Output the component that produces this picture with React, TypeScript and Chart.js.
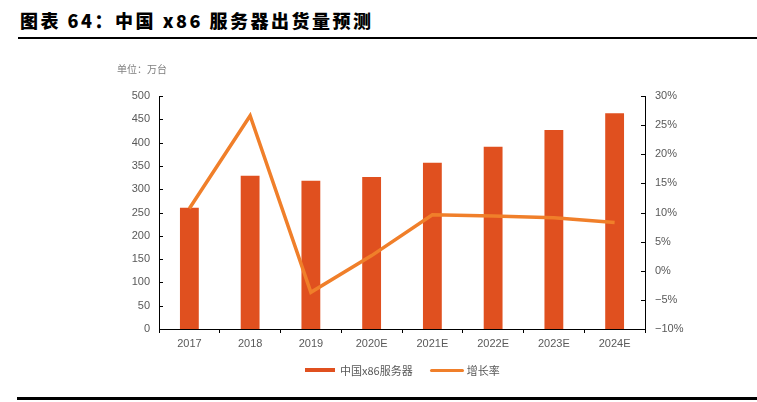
import { useEffect, useRef } from 'react'
import { Chart, registerables, ChartConfiguration, Plugin } from 'chart.js'

Chart.register(...registerables)

const years = ['2017', '2018', '2019', '2020E', '2021E', '2022E', '2023E', '2024E']
const shipments = [260, 329, 318, 326, 357, 391, 427, 463]
const growth = [10.7, 26.6, -3.7, 2.6, 9.6, 9.4, 9.1, 8.3]

const barColor = '#E0501F'
const lineColor = '#F07F2A'
const textGray = '#595959'
const latin = '"Liberation Sans", Arial, sans-serif'
const cjk = '"Noto Sans CJK SC", sans-serif'

// small tick marks pointing into the plot on both value axes
const innerTicks: Plugin<'bar'> = {
  id: 'innerTicks',
  afterDraw(chart) {
    const { ctx, chartArea } = chart
    const left = chart.scales.y
    const right = chart.scales.y1
    ctx.save()
    ctx.strokeStyle = '#000'
    ctx.lineWidth = 1
    ctx.beginPath()
    left.ticks.forEach(t => {
      const y = Math.round(left.getPixelForValue(t.value)) + 0.5
      ctx.moveTo(chartArea.left, y)
      ctx.lineTo(chartArea.left + 4, y)
    })
    right.ticks.forEach(t => {
      const y = Math.round(right.getPixelForValue(t.value)) + 0.5
      ctx.moveTo(chartArea.right, y)
      ctx.lineTo(chartArea.right - 4, y)
    })
    ctx.stroke()
    ctx.restore()
  }
}

export default function App() {
  const chartRef = useRef<HTMLCanvasElement>(null)
  const chartInstance = useRef<Chart | null>(null)

  useEffect(() => {
    if (!chartRef.current) return
    document.body.style.margin = '0'

    if (chartInstance.current) {
      chartInstance.current.destroy()
    }

    const ctx = chartRef.current.getContext('2d')
    if (!ctx) return

    const config: ChartConfiguration<'bar'> = {
      type: 'bar',
      data: {
        labels: years,
        datasets: [
          {
            type: 'line' as any,
            label: '增长率',
            data: growth,
            yAxisID: 'y1',
            borderColor: lineColor,
            backgroundColor: lineColor,
            borderWidth: 3.5,
            pointRadius: 0,
            tension: 0,
            order: 0
          } as any,
          {
            label: '中国x86服务器',
            data: shipments,
            yAxisID: 'y',
            backgroundColor: barColor,
            barPercentage: 0.31,
            categoryPercentage: 1,
            order: 1
          }
        ]
      },
      options: {
        animation: false,
        responsive: false,
        maintainAspectRatio: false,
        layout: { padding: { top: 96, left: 0, right: 0, bottom: 0 } },
        plugins: {
          legend: { display: false },
          tooltip: { enabled: false },
          title: { display: false }
        },
        scales: {
          x: {
            offset: true,
            border: { color: '#000', width: 1 },
            grid: { drawOnChartArea: false, drawTicks: true, tickLength: 4, offset: true, color: '#000' },
            ticks: { color: textGray, font: { family: latin, size: 11 }, padding: 4 },
            afterFit: (s: any) => { s.height = 402 - 96 - 233 }
          },
          y: {
            position: 'left',
            min: 0,
            max: 500,
            border: { color: '#000', width: 1 },
            grid: { display: false, drawTicks: false },
            ticks: { stepSize: 50, color: textGray, font: { family: latin, size: 11 }, padding: 9 },
            afterFit: (s: any) => { s.width = 159 }
          },
          y1: {
            position: 'right',
            min: -10,
            max: 30,
            border: { color: '#000', width: 1 },
            grid: { display: false, drawTicks: false },
            ticks: {
              stepSize: 5,
              color: textGray,
              font: { family: latin, size: 11 },
              padding: 10,
              callback: (v: any) => (v < 0 ? '\u2212' + Math.abs(v) : v) + '%'
            },
            afterFit: (s: any) => { s.width = 757 - 645 }
          }
        }
      },
      plugins: [innerTicks]
    }

    chartInstance.current = new Chart(ctx, config)

    return () => {
      if (chartInstance.current) {
        chartInstance.current.destroy()
        chartInstance.current = null
      }
    }
  }, [])

  return (
    <div style={{ position: 'relative', width: 757, height: 402, background: '#fff', overflow: 'hidden' }}>
      <div
        style={{
          position: 'absolute', left: 20, top: 7, fontFamily: cjk, fontWeight: 900,
          fontSize: 18, color: '#000', letterSpacing: 2.5, whiteSpace: 'nowrap', lineHeight: '26px'
        }}
      >
        图表 64：中国 x86 服务器出货量预测
      </div>
      <div style={{ position: 'absolute', left: 18, right: 0, top: 37, height: 2, background: '#000' }} />
      <canvas ref={chartRef} width={757} height={402} style={{ position: 'absolute', left: 0, top: 0 }} />
      <div
        style={{
          position: 'absolute', left: 117, top: 62, fontFamily: cjk, fontSize: 10,
          color: '#7f7f7f', whiteSpace: 'nowrap', lineHeight: '14px'
        }}
      >
        单位：万台
      </div>
      <div
        style={{
          position: 'absolute', left: 305, top: 362, display: 'flex', alignItems: 'center',
          fontFamily: cjk, fontSize: 11, color: textGray, whiteSpace: 'nowrap', lineHeight: '16px'
        }}
      >
        <span style={{ display: 'inline-block', width: 30, height: 4, background: barColor, marginRight: 5 }} />
        <span>中国x86服务器</span>
        <span style={{ display: 'inline-block', width: 34, height: 3, borderRadius: 2, background: lineColor, marginLeft: 17, marginRight: 3 }} />
        <span>增长率</span>
      </div>
      <div style={{ position: 'absolute', left: 17, right: 0, top: 397, height: 3, background: '#000' }} />
    </div>
  )
}
